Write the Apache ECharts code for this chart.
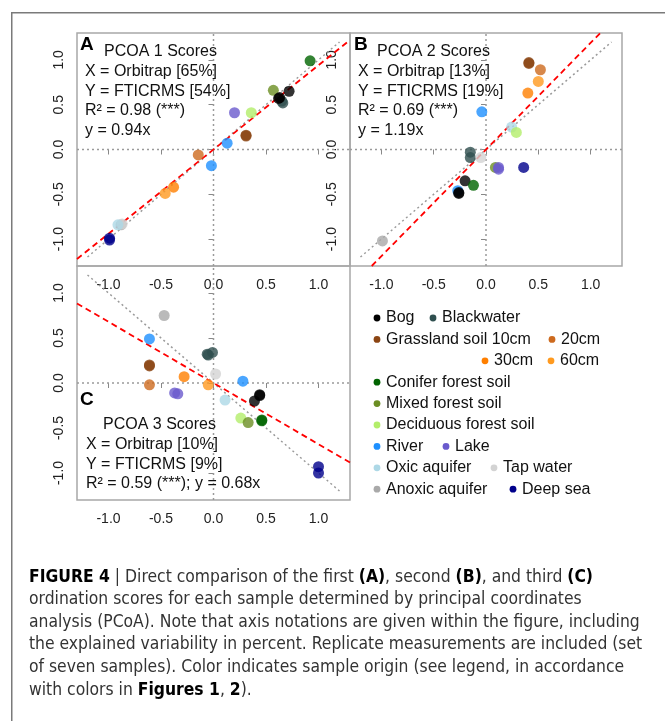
<!DOCTYPE html>
<html><head><meta charset="utf-8">
<script src="https://cdn.jsdelivr.net/npm/echarts@6/dist/echarts.min.js"></script>
<style>html,body{margin:0;padding:0;background:#fff}#c{width:665px;height:721px}</style>
</head><body><div id="c"></div>
<script>
// ---------------- data ----------------
const groups = ['Bog','Blackwater','Grassland soil 10cm','20cm','30cm','60cm','Conifer forest soil',
  'Mixed forest soil','Deciduous forest soil','River','Lake','Oxic aquifer','Tap water','Anoxic aquifer','Deep sea'];
const groupColors = ['#000000','#2F4F4F','#8B4513','#CD6A1E','#FF7F00','#FF9A1F','#006400',
  '#6B8E23','#B3EE6A','#1E90FF','#6A5ACD','#ADD8E6','#D3D3D3','#A9A9A9','#00008B'];
const tickValues = [-1.0, -0.5, 0.0, 0.5, 1.0];
const axisRange = [-1.3, 1.3];
const refRange = [-1.2, 1.2];

// [Orbitrap score, FTICRMS score, group index]
const pcoa1 = [
  [-0.88,-0.84,13],[-0.87,-0.83,12],[-0.91,-0.84,11],
  [-0.99,-0.99,14],[-0.99,-1.01,14],
  [-0.38,-0.42,4],[-0.46,-0.49,5],[-0.145,-0.06,3],
  [0.13,0.07,9],[-0.02,-0.18,9],
  [0.31,0.16,2],[0.31,0.15,2],
  [0.20,0.41,10],[0.36,0.41,8],[0.57,0.66,7],
  [0.66,0.52,1],[0.65,0.54,1],
  [0.72,0.65,0],[0.62,0.57,0],[0.63,0.58,0],
  [0.92,0.99,6]
];
const pcoa2 = [
  [-0.99,-1.02,13],
  [-0.27,-0.46,9],[-0.04,0.42,9],
  [-0.20,-0.35,0],[-0.26,-0.49,0],[-0.26,-0.48,0],
  [-0.12,-0.40,6],
  [-0.15,-0.03,1],[-0.15,-0.09,1],[-0.05,-0.09,12],
  [0.09,-0.20,7],[0.12,-0.20,10],[0.12,-0.22,10],[0.36,-0.20,14],
  [0.245,0.25,11],[0.29,0.19,8],
  [0.40,0.63,4],[0.50,0.76,5],[0.52,0.89,3],
  [0.41,0.97,2],[0.41,0.96,2]
];
const pcoa3 = [
  [-0.47,0.75,13],
  [-0.61,0.49,9],[0.28,0.02,9],
  [-0.61,0.20,2],[-0.61,0.19,2],[-0.61,-0.02,3],
  [-0.06,0.32,1],[-0.01,0.34,1],[-0.05,0.31,1],
  [0.02,0.10,12],[-0.28,0.07,4],[-0.05,-0.02,5],
  [-0.37,-0.11,10],[-0.34,-0.12,10],
  [0.11,-0.19,11],
  [0.39,-0.20,0],[0.44,-0.13,0],[0.44,-0.14,0],
  [0.26,-0.39,8],[0.33,-0.44,7],[0.46,-0.41,6],[0.46,-0.42,6],
  [1.0,-0.93,14],[1.0,-1.0,14]
];
const panelData = [pcoa1, pcoa2, pcoa3];
const fitSlopes = [0.94, 1.19, -0.68];
const refSlopes = [1, 1, -1];
const panelLetters = ['A','B','C'];
const panelTitles = ['PCOA 1 Scores','PCOA 2 Scores','PCOA 3 Scores'];
const panelNotes = [
  ['X = Orbitrap [65%]','Y = FTICRMS [54%]','R\u00B2 = 0.98 (***)','y = 0.94x'],
  ['X = Orbitrap [13%]','Y = FTICRMS [19%]','R\u00B2 = 0.69 (***)','y = 1.19x'],
  ['X = Orbitrap [10%]','Y = FTICRMS [9%]','R\u00B2 = 0.59 (***); y = 0.68x']
];
const legendRows = [[0,1],[2,3],[4,5],[6],[7],[8],[9,10],[11,12],[13,14]];
const captionLines = [
  '{b|FIGURE 4} | Direct comparison of the first {b|(A)}, second {b|(B)}, and third {b|(C)}',
  'ordination scores for each sample determined by principal coordinates',
  'analysis (PCoA). Note that axis notations are given within the figure, including',
  'the explained variability in percent. Replicate measurements are included (set',
  'of seven samples). Color indicates sample origin (see legend, in accordance',
  'with colors in {b|Figures 1}, {b|2}).'
];

// ---------------- layout ----------------
const FONT = 'Liberation Sans, Arial, Helvetica, sans-serif';
const CAPFONT = "'DejaVu Sans Condensed', 'Liberation Sans Narrow', sans-serif";
const gridBoxes = [
  {left:77, top:33, width:273, height:233},
  {left:350, top:33, width:272, height:233},
  {left:77, top:266, width:273, height:234}
];
const noteLayout = [
  {letter:[80,45], title:[104,52], notes:[85,72]},
  {letter:[354,45], title:[377,52], notes:[358,72]},
  {letter:[80,400], title:[103,425], notes:[86,445]}
];
const noteStep = 19.5;
const legendX = {0:377,1:433,2:377,3:552,4:485,5:551,6:377,7:377,8:377,9:377,10:446,11:377,12:494,13:377,14:513};
const legendTop = 318, legendStep = 21.4;
const captionLeft = 29, captionTop = 577, captionStep = 22.6, captionFitWidth = 611;

// fit caption font size so that the third line spans the measured width
const mctx = document.createElement('canvas').getContext('2d');
function measureRich(line, size){
  let w = 0; const re = /\{b\|([^}]*)\}/g; let last = 0, m;
  const segs = [];
  while ((m = re.exec(line))) { segs.push([line.slice(last, m.index), false]); segs.push([m[1], true]); last = re.lastIndex; }
  segs.push([line.slice(last), false]);
  segs.forEach(s => { mctx.font = (s[1] ? 'bold ' : '') + size + 'px ' + CAPFONT; w += mctx.measureText(s[0]).width; });
  return w;
}
const capSize = 19 * captionFitWidth / measureRich(captionLines[2], 19);

// ---------------- build ----------------
const grids = gridBoxes.map(b => Object.assign({show:true, borderColor:'#a8a8a8', borderWidth:1.5, backgroundColor:'transparent'}, b));
function axis(i, isY){
  return {
    type:'value', gridIndex:i, min:axisRange[0], max:axisRange[1],
    axisLine:{show:false}, splitLine:{show:false},
    axisTick:{show:true, customValues:tickValues, length:5, lineStyle:{color:'#888', width:1}},
    axisLabel:{show:true, customValues:tickValues, formatter:v => (Math.abs(v) < 1e-9 ? 0 : v).toFixed(1),
      margin: isY ? 11 : 12, fontSize:14, color:'#222', fontFamily:FONT, rotate: isY ? 90 : 0}
  };
}
const xAxes = [0,1,2].map(i => axis(i,false));
const yAxes = [0,1,2].map(i => axis(i,true));

const series = [];
[0,1,2].forEach(i => {
  const base = {xAxisIndex:i, yAxisIndex:i, silent:true, animation:false};
  series.push(Object.assign({type:'line', symbol:'none', data:[[axisRange[0],0],[axisRange[1],0]],
    lineStyle:{color:'#9a9a9a', width:1.5, type:[2,3]}, z:1}, base));
  series.push(Object.assign({type:'line', symbol:'none', data:[[0,axisRange[0]],[0,axisRange[1]]],
    lineStyle:{color:'#9a9a9a', width:1.5, type:[2,3]}, z:1}, base));
  const rs = refSlopes[i];
  series.push(Object.assign({type:'line', symbol:'none', data:refRange.map(x => [x, rs*x]),
    lineStyle:{color:'#9a9a9a', width:1.5, type:[2,3]}, z:2}, base));
  const fs = fitSlopes[i];
  const xm = Math.min(axisRange[1], axisRange[1]/Math.abs(fs));
  series.push(Object.assign({type:'line', symbol:'none', data:[[-xm, -xm*fs],[xm, xm*fs]],
    lineStyle:{color:'#ff0000', width:1.8, type:[6,4]}, z:3}, base));
  series.push(Object.assign({type:'scatter', symbol:'circle', symbolSize:11, z:5,
    data: panelData[i].map(p => ({value:[p[0],p[1]], itemStyle:{color:groupColors[p[2]], opacity:0.8}}))}, base));
});

const graphic = [];
graphic.push({type:'line', shape:{x1:11, y1:12.75, x2:665, y2:12.75}, style:{stroke:'#7a7a7a', lineWidth:1.5}, silent:true});
graphic.push({type:'line', shape:{x1:11.75, y1:12, x2:11.75, y2:721}, style:{stroke:'#7a7a7a', lineWidth:1.5}, silent:true});
[0,1,2].forEach(i => {
  const L = noteLayout[i];
  graphic.push({type:'text', x:L.letter[0], y:L.letter[1], z:20,
    style:{text:panelLetters[i], font:'bold 19px '+FONT, fill:'#000', verticalAlign:'middle', textVerticalAlign:'middle'}});
  graphic.push({type:'text', x:L.title[0], y:L.title[1], z:20,
    style:{text:panelTitles[i], font:'16px '+FONT, fill:'#111', verticalAlign:'middle', textVerticalAlign:'middle'}});
  panelNotes[i].forEach((t, k) => {
    graphic.push({type:'text', x:L.notes[0], y:L.notes[1] + k*noteStep, z:20,
      style:{text:t, font:'16px '+FONT, fill:'#111', verticalAlign:'middle', textVerticalAlign:'middle'}});
  });
});
legendRows.forEach((row, r) => {
  const cy = legendTop + r*legendStep;
  row.forEach(g => {
    const x = legendX[g];
    graphic.push({type:'circle', shape:{cx:x, cy:cy, r:3.4}, style:{fill:groupColors[g]}, z:20});
    graphic.push({type:'text', x:x+9, y:cy, z:20,
      style:{text:groups[g], font:'16px '+FONT, fill:'#111', verticalAlign:'middle', textVerticalAlign:'middle'}});
  });
});
captionLines.forEach((t, k) => {
  graphic.push({type:'text', x:captionLeft, y:captionTop + k*captionStep, z:20,
    style:{text:t, fontFamily:CAPFONT, fontSize:capSize, fill:'#333', verticalAlign:'middle', textVerticalAlign:'middle',
      rich:{b:{fontFamily:CAPFONT, fontSize:capSize, fontWeight:'bold', fill:'#000', color:'#000'}}}});
});

const chart = echarts.init(document.getElementById('c'), null, {renderer:'canvas'});
chart.setOption({
  animation:false, backgroundColor:'#fff',
  grid:grids, xAxis:xAxes, yAxis:yAxes, series:series, graphic:graphic
});
</script>
</body></html>
